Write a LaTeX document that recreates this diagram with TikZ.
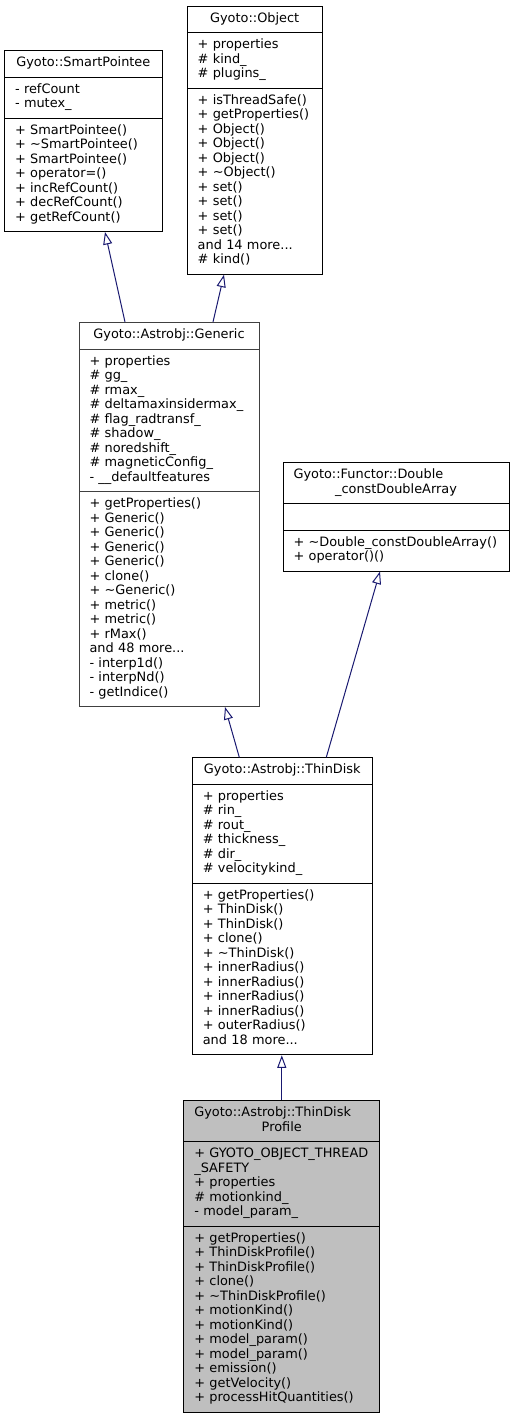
\documentclass[tikz,border=0pt]{standalone}
\usepackage{fontspec}
\setmainfont{DejaVu Sans}
\usetikzlibrary{shapes.multipart, arrows.meta}

\definecolor{edgeblue}{HTML}{191970}
\definecolor{boxgray}{HTML}{404040}
\definecolor{selfgray}{HTML}{BFBFBF}

\tikzset{
  umlclass/.style={draw=black, fill=white, line width=1pt,
    rectangle split, rectangle split parts=3, align=left,
    inner xsep=10.5pt, inner ysep=5.5pt,
    font=\fontsize{12.9}{14.5}\selectfont},
  inherit/.style={draw=edgeblue, line width=1pt,
    -{Triangle[open, length=12.5pt, width=9pt]}},
}

\begin{document}
\begin{tikzpicture}[x=1pt, y=-1pt]
\useasboundingbox (0,0) rectangle (515,1417);

% base classes
\node[umlclass, text width=136.5pt, anchor=north] (smartpointee) at (83.3,50)
  {\makebox[\linewidth]{\strut Gyoto::SmartPointee}
   \nodepart{second}\strut - refCount\\- mutex\_\strut
   \nodepart{third}\strut + SmartPointee()\\+ \textasciitilde SmartPointee()\\+ SmartPointee()\\+ operator=()\\+ incRefCount()\\+ decRefCount()\\+ getRefCount()\strut};

\node[umlclass, text width=114pt, anchor=north] (object) at (254.7,5.7)
  {\makebox[\linewidth]{\strut Gyoto::Object}
   \nodepart{second}\strut + properties\\\# kind\_\\\# plugins\_\strut
   \nodepart{third}\strut + isThreadSafe()\\+~getProperties()\\+ Object()\\+ Object()\\+ Object()\\+ \textasciitilde Object()\\+ set()\\+ set()\\+ set()\\+ set()\\and 14 more...\\\# kind()\strut};

\node[umlclass, draw=boxgray, text width=159pt, anchor=north] (generic) at (169,322)
  {\makebox[\linewidth]{\strut Gyoto::Astrobj::Generic}
   \nodepart{second}\strut + properties\\\# gg\_\\\# rmax\_\\\# deltamaxinsidermax\_\\\# flag\_radtransf\_\\\# shadow\_\\\# noredshift\_\\\# magneticConfig\_\\- \_\_defaultfeatures\strut
   \nodepart{third}\strut + getProperties()\\+ Generic()\\+ Generic()\\+ Generic()\\+ Generic()\\+ clone()\\+ \textasciitilde Generic()\\+ metric()\\+ metric()\\+ rMax()\\and 48 more...\\- interp1d()\\- interpNd()\\- getIndice()\strut};

\node[umlclass, text width=205pt, anchor=north] (functor) at (396,462)
  {\strut Gyoto::Functor::Double\\\makebox[\linewidth]{\_constDoubleArray}\strut
   \nodepart{second}\strut
   \nodepart{third}\strut +~\textasciitilde Double\_constDoubleArray()\\+ operator()()\strut};

% derived classes
\node[umlclass, text width=159pt, anchor=north] (thindisk) at (282.3,757.3)
  {\makebox[\linewidth]{\strut Gyoto::Astrobj::ThinDisk}
   \nodepart{second}\strut + properties\\\# rin\_\\\# rout\_\\\# thickness\_\\\# dir\_\\\# velocitykind\_\strut
   \nodepart{third}\strut + getProperties()\\+ ThinDisk()\\+ ThinDisk()\\+ clone()\\+ \textasciitilde ThinDisk()\\+ innerRadius()\\+ innerRadius()\\+ innerRadius()\\+ innerRadius()\\+ outerRadius()\\and 18 more...\strut};

\node[umlclass, fill=selfgray, text width=175pt, anchor=north] (profile) at (281.8,1100)
  {\strut Gyoto::Astrobj::ThinDisk\\\makebox[\linewidth]{Profile}\strut
   \nodepart{second}\strut +~GYOTO\_OBJECT\_THREAD\\\_SAFETY\\+ properties\\\# motionkind\_\\- model\_param\_\strut
   \nodepart{third}\strut + getProperties()\\+ ThinDiskProfile()\\+ ThinDiskProfile()\\+ clone()\\+ \textasciitilde ThinDiskProfile()\\+ motionKind()\\+ motionKind()\\+ model\_param()\\+ model\_param()\\+ emission()\\+ getVelocity()\\+ processHitQuantities()\strut};

% inheritance
\draw[inherit] ([xshift=-44pt]generic.north) -- ([xshift=21.7pt]smartpointee.south);
\draw[inherit] ([xshift=44pt]generic.north) -- ([xshift=-30.7pt]object.south);
\draw[inherit] ([xshift=-43pt]thindisk.north) -- ([xshift=56pt]generic.south);
\draw[inherit] ([xshift=44pt]thindisk.north) -- ([xshift=-16pt]functor.south);
\draw[inherit] (profile.north) -- (profile.north |- thindisk.south);
\end{tikzpicture}
\end{document}
